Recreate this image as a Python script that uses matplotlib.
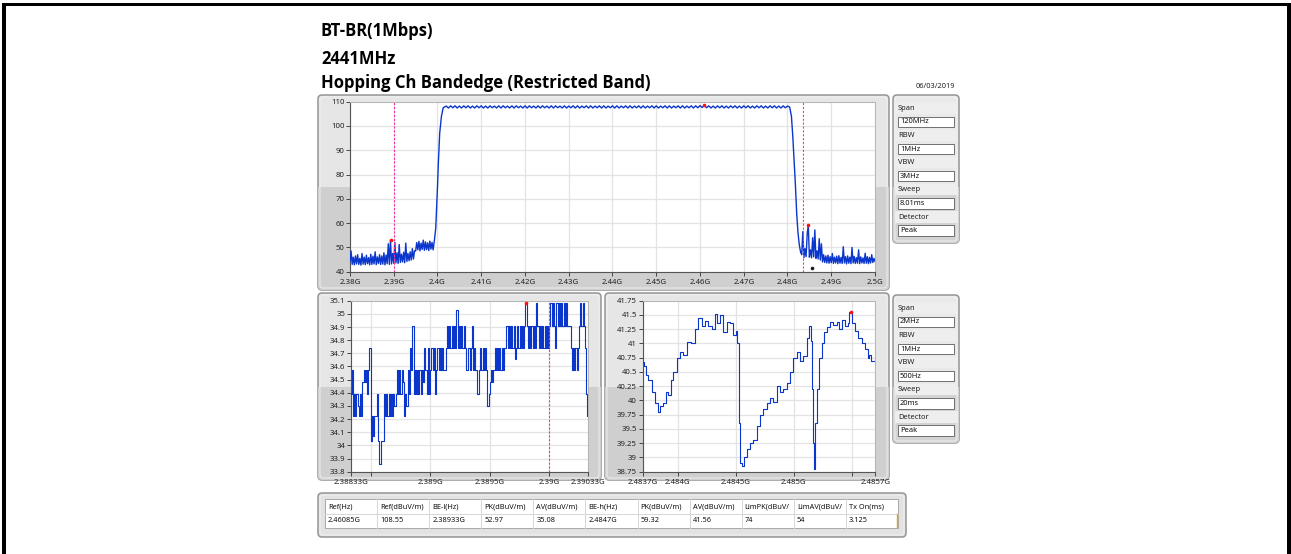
import numpy as np
import matplotlib
matplotlib.use('Agg')
import matplotlib.pyplot as plt
from matplotlib.patches import FancyBboxPatch, Rectangle
from matplotlib import font_manager

W, H = 1291, 554

# ---------------- data ----------------
title_lines = ["BT-BR(1Mbps)", "2441MHz", "Hopping Ch Bandedge (Restricted Band)"]
date_text = "06/03/2019"

# top chart (120 MHz span)
top_xticks = [2.38, 2.39, 2.40, 2.41, 2.42, 2.43, 2.44, 2.45, 2.46, 2.47, 2.48, 2.49, 2.50]
top_xticklabels = ['2.38G', '2.39G', '2.4G', '2.41G', '2.42G', '2.43G', '2.44G',
                   '2.45G', '2.46G', '2.47G', '2.48G', '2.49G', '2.5G']
top_yticks = [40, 50, 60, 70, 80, 90, 100, 110]

# noise floor below band, 2.380 - 2.399 GHz (0.25 MHz sweep bins)
floor_lo = [44.0, 48.5, 43.0, 46.0, 42.8, 46.5, 43.2, 47.0, 43.0, 45.5,
            42.7, 47.5, 43.1, 46.0, 42.9, 46.8, 43.3, 45.8, 42.8, 47.2,
            43.0, 46.4, 43.2, 48.2, 42.9, 46.1, 43.4, 47.0, 43.0, 46.5,
            43.1, 47.8, 42.8, 46.9, 43.3, 51.5, 43.0, 52.97, 43.2, 47.5,
            43.5, 52.0, 43.6, 47.8, 43.4, 51.2, 43.8, 47.2, 44.0, 48.0,
            43.7, 51.8, 44.2, 47.5, 44.5, 48.2, 44.8, 49.5, 45.2, 48.6,
            48.5, 52.0, 49.0, 52.5, 48.6, 51.8, 49.2, 53.0, 48.8, 52.3,
            49.1, 51.9, 48.7, 52.6, 49.3, 52.1, 49.0]
rise_freq = [2.3993, 2.3996, 2.3998, 2.4000, 2.4002, 2.4005, 2.4009, 2.4013]
rise_lvl = [53.0, 58.0, 66.0, 75.0, 85.0, 97.0, 104.0, 107.5]
# hopping channels 2402..2480 MHz: peak levels and dips between channels
ch_first_mhz, ch_last_mhz = 2402, 2480
ch_peak = [108.2, 108.3, 108.3, 108.2, 108.3, 108.3, 108.2, 108.3, 108.3, 108.2,
           108.3, 108.2, 108.3, 108.3, 108.2, 108.3, 108.3, 108.2, 108.3, 108.3,
           108.2, 108.3, 108.3, 108.2, 108.3, 108.3, 108.2, 108.3, 108.2, 108.3,
           108.3, 108.2, 108.3, 108.3, 108.2, 108.3, 108.3, 108.2, 108.3, 108.3,
           108.2, 108.3, 108.3, 108.2, 108.3, 108.3, 108.2, 108.3, 108.3, 108.2,
           108.3, 108.3, 108.2, 108.3, 108.3, 108.2, 108.3, 108.3, 108.4, 108.5,
           108.3, 108.2, 108.3, 108.3, 108.2, 108.3, 108.3, 108.2, 108.3, 108.3,
           108.2, 108.3, 108.3, 108.2, 108.3, 108.3, 108.2, 108.3, 108.2]
ch_dip = [107.4, 107.5, 107.4, 107.4, 107.5, 107.4, 107.4, 107.5, 107.4, 107.4,
          107.5, 107.4, 107.4, 107.5, 107.4, 107.4, 107.5, 107.4, 107.4, 107.5,
          107.4, 107.4, 107.5, 107.4, 107.4, 107.5, 107.4, 107.4, 107.5, 107.4,
          107.4, 107.5, 107.4, 107.4, 107.5, 107.4, 107.4, 107.5, 107.4, 107.4,
          107.5, 107.4, 107.4, 107.5, 107.4, 107.4, 107.5, 107.4, 107.4, 107.5,
          107.4, 107.4, 107.5, 107.4, 107.4, 107.5, 107.4, 107.5, 107.6, 107.5,
          107.4, 107.4, 107.5, 107.4, 107.4, 107.5, 107.4, 107.4, 107.5, 107.4,
          107.4, 107.5, 107.4, 107.4, 107.5, 107.4, 107.4, 107.5]
fall_freq = [2.4805, 2.4809, 2.4812, 2.4815, 2.4818, 2.4821, 2.4824, 2.4827, 2.4830]
fall_lvl = [107.8, 104.0, 96.0, 86.0, 76.0, 64.0, 56.0, 51.0, 48.0]
# noise floor above band, 2.48325 - 2.500 GHz (0.25 MHz sweep bins)
floor_hi = [47.0, 56.5, 45.8, 49.5, 46.2, 55.5, 59.32, 46.0, 49.0, 45.7,
            54.0, 46.1, 57.2, 45.5, 48.6, 45.2, 53.6, 44.8, 51.5, 44.0,
            47.0, 43.8, 46.5, 43.6, 46.8, 43.5, 46.2, 43.7, 47.5, 43.4,
            46.0, 43.6, 46.4, 43.3, 46.6, 43.5, 45.9, 43.4, 50.3, 43.6,
            46.2, 43.2, 46.5, 43.5, 46.0, 43.3, 50.0, 43.6, 46.3, 43.4,
            45.8, 43.5, 49.0, 43.3, 46.1, 43.6, 45.7, 43.4, 47.6, 43.5,
            46.2, 43.3, 45.9, 43.6, 47.0, 43.8, 45.5, 44.2]
top_red_f = [2.38933, 2.46085, 2.4847]
top_red_v = [52.97, 108.55, 59.32]
top_black_f = [2.4855]
top_black_v = [41.56]
top_band_lines = [2.39, 2.4835]

# bottom-left zoom (lower band edge, 2 MHz span)
bl_range = (2.38833, 2.39033)
bl_xticks = [2.38833, 2.3885, 2.389, 2.3895, 2.39, 2.39033]
bl_xticklabels = ['2.38833G', '', '2.389G', '2.3895G', '2.39G', '2.39033G']
bl_yticks = [33.8, 33.9, 34.0, 34.1, 34.2, 34.3, 34.4, 34.5, 34.6, 34.7, 34.8, 34.9, 35.0, 35.1]
bl_yticklabels = ['33.8', '33.9', '34', '34.1', '34.2', '34.3', '34.4', '34.5',
                  '34.6', '34.7', '34.8', '34.9', '35', '35.1']
bl_lvl = [34.39, 34.57,
          34.22, 34.39, 34.22, 34.39, 34.30, 34.22, 34.39, 34.22,
          34.48, 34.57, 34.48, 34.57, 34.39, 34.57,
          34.74, 34.03, 34.22, 34.07, 34.22, 34.22, 34.39,
          34.03, 33.86, 33.86, 34.03, 34.03, 34.39,
          34.22, 34.39, 34.22, 34.39, 34.22, 34.39, 34.22, 34.39, 34.30, 34.39,
          34.57, 34.39, 34.57, 34.39, 34.57, 34.48, 34.22,
          34.39, 34.30, 34.57, 34.39, 34.74, 34.57, 34.91,
          34.39, 34.57, 34.39, 34.57, 34.39, 34.57, 34.39, 34.57, 34.48,
          34.74, 34.57, 34.39, 34.74, 34.39, 34.57, 34.74, 34.57, 34.74,
          34.39, 34.57, 34.74, 34.57, 34.74, 34.57, 34.74, 34.57, 34.57,
          34.74, 34.91, 34.74, 34.91, 34.74, 34.91, 34.74, 34.91, 34.74, 35.03,
          34.74, 34.91, 34.74, 34.91, 34.74, 34.91, 34.74, 34.57, 34.57,
          34.74, 34.57, 34.74, 34.91, 34.57, 34.74, 34.57, 34.39, 34.39,
          34.57, 34.74, 34.57, 34.74, 34.57, 34.74, 34.57, 34.30,
          34.39, 34.48, 34.57, 34.48,
          34.57, 34.74, 34.57, 34.74, 34.57, 34.74, 34.57, 34.74, 34.57, 34.74,
          34.74, 34.91, 34.74, 34.91, 34.74, 34.91, 34.74, 34.91, 34.66,
          34.74, 34.91, 34.74, 34.91, 34.74, 34.91, 34.74, 34.91, 35.08,
          34.91, 34.74, 34.91, 34.74, 34.91, 34.74, 34.91, 34.74, 35.08, 34.91,
          34.74, 34.91, 34.74, 34.91, 34.74, 34.91, 34.74, 34.91, 34.74, 34.91,
          35.08, 34.91, 35.08, 34.91, 34.74, 35.08, 34.91, 35.08, 34.91, 35.08,
          34.91, 35.08, 34.91, 35.08, 34.91, 34.91, 34.91,
          34.74, 34.57, 34.74, 34.57, 34.74, 34.57, 34.74,
          34.91, 35.08, 34.91, 35.08, 34.91, 34.74, 34.39, 34.22]
bl_red_f = [2.38981]
bl_red_v = [35.08]
bl_line = 2.39

# bottom-right zoom (upper band edge, 2 MHz span)
br_range = (2.4837, 2.4857)
br_xticks = [2.4837, 2.484, 2.4845, 2.485, 2.4855, 2.4857]
br_xticklabels = ['2.4837G', '2.484G', '2.4845G', '2.485G', '', '2.4857G']
br_yticks = [38.75, 39.0, 39.25, 39.5, 39.75, 40.0, 40.25, 40.5, 40.75, 41.0, 41.25, 41.5, 41.75]
br_yticklabels = ['38.75', '39', '39.25', '39.5', '39.75', '40', '40.25', '40.5',
                  '40.75', '41', '41.25', '41.5', '41.75']
br_off_mhz = [0.000, 0.020, 0.034, 0.063, 0.092, 0.120, 0.140, 0.163, 0.192, 0.206,
              0.235, 0.249, 0.278, 0.307, 0.335, 0.364, 0.393, 0.436, 0.464, 0.493,
              0.521, 0.550, 0.579, 0.607, 0.636, 0.650, 0.679, 0.708, 0.736, 0.765,
              0.788, 0.808, 0.817, 0.831, 0.842, 0.860, 0.880, 0.908, 0.937, 0.966,
              0.994, 1.023, 1.052, 1.080, 1.109, 1.138, 1.166, 1.195, 1.223, 1.252,
              1.281, 1.309, 1.338, 1.367, 1.395, 1.424, 1.438, 1.453, 1.461, 1.473,
              1.479, 1.490, 1.510, 1.530, 1.547, 1.567, 1.596, 1.625, 1.653, 1.682,
              1.702, 1.725, 1.754, 1.768, 1.788, 1.811, 1.840, 1.868, 1.897, 1.926,
              1.940, 1.954, 1.968, 2.000]
br_lvl = [40.68, 40.60, 40.45, 40.35, 40.15, 39.95, 39.80, 39.90, 39.95, 40.15,
          40.10, 40.35, 40.50, 40.75, 40.85, 40.80, 41.02, 41.00, 41.25, 41.45,
          41.30, 41.40, 41.30, 41.25, 41.52, 41.35, 41.50, 41.20, 41.38, 41.35,
          41.15, 41.22, 41.00, 39.60, 38.90, 38.85, 39.00, 39.15, 39.25, 39.30,
          39.55, 39.75, 39.85, 39.95, 40.05, 39.98, 40.25, 40.15, 40.20, 40.30,
          40.50, 40.75, 40.85, 40.70, 40.78, 41.10, 41.30, 41.05, 40.20, 39.25,
          38.80, 39.60, 40.20, 40.75, 41.00, 41.20, 41.28, 41.38, 41.32, 41.38,
          41.25, 41.42, 41.30, 41.35, 41.56, 41.35, 41.22, 41.10, 41.00, 40.90,
          40.75, 40.80, 40.70, 40.70]
br_red_f = [2.48549]
br_red_v = [41.56]

# analyser settings side panels
settings_labels = ['Span', 'RBW', 'VBW', 'Sweep', 'Detector']
settings_top = ['120MHz', '1MHz', '3MHz', '8.01ms', 'Peak']
settings_bot = ['2MHz', '1MHz', '500Hz', '20ms', 'Peak']

# result table
table_header = ['Ref(Hz)', 'Ref(dBuV/m)', 'BE-l(Hz)', 'PK(dBuV/m)', 'AV(dBuV/m)', 'BE-h(Hz)',
                'PK(dBuV/m)', 'AV(dBuV/m)', 'LimPK(dBuV/', 'LimAV(dBuV/', 'Tx On(ms)']
table_row = ['2.46085G', '108.55', '2.38933G', '52.97', '35.08', '2.4847G',
             '59.32', '41.56', '74', '54', '3.125']

# ---------------- drawing ----------------
plt.rcParams['font.family'] = ['Noto Sans', 'DejaVu Sans']
TRACE = '#0a36cc'
MAG = '#ff2f9c'
TICKFS = 5.6

# pick an installed bold face for the titles
bold_family = 'DejaVu Sans'
for fam in ['Open Sans', 'Lato', 'Roboto', 'Liberation Sans']:
    try:
        fp = font_manager.findfont(font_manager.FontProperties(family=fam, weight='bold'),
                                   fallback_to_default=False)
        if 'bold' in fp.lower() or 'black' in fp.lower():
            bold_family = fam
            break
    except Exception:
        pass

fig = plt.figure(figsize=(W / 100, H / 100), dpi=100)
fig.patch.set_facecolor('white')
bg = fig.add_axes([0, 0, 1, 1])
bg.set_xlim(0, W)
bg.set_ylim(H, 0)
bg.axis('off')
bg.set_zorder(0)

# page frame
bg.add_patch(Rectangle((1.5, 2.5), 4.0, H, fc='black', ec='none'))
bg.add_patch(Rectangle((1.5, 2.5), W, 3.2, fc='black', ec='none'))
bg.add_patch(Rectangle((1287, 2.5), 4.0, H, fc='black', ec='none'))


def panel(x0, y0, x1, y1, split=None, light='#e6e6e6', dark='#cfcfcf'):
    p = FancyBboxPatch((x0, y0), x1 - x0, y1 - y0,
                       boxstyle='round,pad=0,rounding_size=4',
                       fc=light, ec='#959595', lw=1.1, zorder=1)
    bg.add_patch(p)
    if split is not None:
        r = Rectangle((x0, split), x1 - x0, y1 - split, fc=dark, ec='none', zorder=1.1)
        r.set_clip_path(p)
        bg.add_patch(r)
    inner = FancyBboxPatch((x0 + 2, y0 + 2), x1 - x0 - 4, y1 - y0 - 4,
                           boxstyle='round,pad=0,rounding_size=3',
                           fc='none', ec='#f4f4f4', lw=0.6, zorder=1.2)
    bg.add_patch(inner)


# titles
for txt, yc in zip(title_lines, [31, 58.5, 83]):
    bg.text(321, yc, txt, ha='left', va='center', fontsize=12.0,
            fontweight='bold', family=bold_family, color='black')
bg.text(935.5, 86.5, date_text, ha='center', va='center', fontsize=5.3, color='#222222')

# chart panels
panel(318, 95, 889, 290, split=187)
panel(318, 293, 601, 480, split=387)
panel(605, 293, 889, 480, split=387)


def settings_panel(y0, values):
    panel(893, y0, 959, y0 + 148, split=y0 + 92, light='#e9e9e9', dark='#d3d3d3')
    for k, (lab, val) in enumerate(zip(settings_labels, values)):
        yl = y0 + 13.3 + 27.2 * k
        yb = y0 + 21.5 + 27.2 * k
        bg.add_patch(Rectangle((894.5, yl - 6), 63, 11.5, fc='#eeeeee', ec='none', zorder=1.3))
        bg.text(898, yl, lab, ha='left', va='center', fontsize=5.4, color='#222222', zorder=3)
        bg.add_patch(Rectangle((897.5, yb), 56, 10.5, fc='white', ec='#6f6f6f', lw=0.7, zorder=2))
        bg.text(900, yb + 5.4, val, ha='left', va='center', fontsize=5.4, color='#111111', zorder=3)


settings_panel(95, settings_top)
settings_panel(295, settings_bot)

# result table
panel(318, 493, 906, 537, split=None, light='#e2e2e2')
bg.add_patch(Rectangle((325, 499), 573, 29, fc='white', ec='#a8a8a8', lw=0.7, zorder=2))
bg.plot([325, 898], [513.5, 513.5], color='#d6d6d6', lw=0.7, zorder=2.5)
col_w = 573 / len(table_header)
for k, (hd, val) in enumerate(zip(table_header, table_row)):
    x0 = 325 + col_w * k
    if k > 0:
        bg.plot([x0, x0], [499, 528], color='#d6d6d6', lw=0.7, zorder=2.5)
    bg.text(x0 + 3, 506.5, hd, ha='left', va='center', fontsize=5.3, color='#111111', zorder=3)
    bg.text(x0 + 3, 520.5, val, ha='left', va='center', fontsize=5.3, color='#111111', zorder=3)
bg.plot([896.5, 896.5], [514, 527], color='#d9a520', lw=1.0, zorder=3)


def make_ax(l, t, r, b):
    ax = fig.add_axes([l / W, 1 - b / H, (r - l) / W, (b - t) / H])
    ax.set_zorder(2)
    ax.set_facecolor('white')
    for s in ['top', 'right']:
        ax.spines[s].set_color('#b5b5b5')
        ax.spines[s].set_linewidth(0.7)
    for s in ['left', 'bottom']:
        ax.spines[s].set_color('#555555')
        ax.spines[s].set_linewidth(0.8)
    ax.tick_params(direction='out', length=2.6, width=0.7, color='#444444',
                   labelsize=TICKFS, labelcolor='#222222', pad=1.5)
    ax.grid(True, color='#e3e3e3', lw=0.9)
    ax.set_axisbelow(True)
    return ax


# top chart
ax = make_ax(350, 101.7, 875, 271.7)
f_lo = np.linspace(2.380, 2.399, len(floor_lo))
f_hi = np.linspace(2.48325, 2.500, len(floor_hi))
ch_f = np.arange(ch_first_mhz, ch_last_mhz + 1) / 1000.0
rip_f, rip_v = [], []
for i, pk in enumerate(ch_peak):
    rip_f.append(ch_f[i])
    rip_v.append(pk)
    if i < len(ch_dip):
        rip_f.append(ch_f[i] + 0.0005)
        rip_v.append(ch_dip[i])
freq_all = np.concatenate([f_lo, rise_freq, rip_f, fall_freq, f_hi])
lvl_all = np.concatenate([floor_lo, rise_lvl, rip_v, fall_lvl, floor_hi])
ax.plot(freq_all, lvl_all, color=TRACE, lw=1.0, zorder=3)
for xl in top_band_lines:
    ax.axvline(xl, color=MAG, lw=0.8, ls=(0, (2, 1.5)), zorder=4)
ax.plot(top_red_f, top_red_v, 'o', color='#ff1010', ms=2.6, mec='none', zorder=5)
ax.plot(top_black_f, top_black_v, 'o', color='#1a1a1a', ms=2.6, mec='none', zorder=5)
ax.set_xlim(2.38, 2.50)
ax.set_ylim(40, 110)
ax.set_xticks(top_xticks)
ax.set_xticklabels(top_xticklabels)
ax.set_yticks(top_yticks)
ax.tick_params(axis='x', pad=2.5)

# bottom-left chart
ax2 = make_ax(351, 300.7, 588, 471.7)
bl_f = np.linspace(bl_range[0], bl_range[1], len(bl_lvl))
ax2.plot(bl_f, bl_lvl, color=TRACE, lw=0.8, drawstyle='steps-mid', zorder=3)
ax2.axvline(bl_line, color=MAG, lw=0.8, ls=(0, (2, 1.5)), zorder=4)
ax2.plot(bl_red_f, bl_red_v, 'o', color='#ff1010', ms=2.6, mec='none', zorder=5)
ax2.set_xlim(*bl_range)
ax2.set_ylim(33.8, 35.1)
ax2.set_xticks(bl_xticks)
ax2.set_xticklabels(bl_xticklabels)
ax2.set_yticks(bl_yticks)
ax2.set_yticklabels(bl_yticklabels)
ax2.tick_params(axis='x', pad=2.5)

# bottom-right chart
ax3 = make_ax(642.7, 300.7, 875.3, 471.7)
br_f = br_range[0] + np.array(br_off_mhz) / 1000.0
ax3.plot(br_f, br_lvl, color=TRACE, lw=0.8, drawstyle='steps-mid', zorder=3)
ax3.plot(br_red_f, br_red_v, 'o', color='#ff1010', ms=2.6, mec='none', zorder=5)
ax3.set_xlim(*br_range)
ax3.set_ylim(38.75, 41.75)
ax3.set_xticks(br_xticks)
ax3.set_xticklabels(br_xticklabels)
ax3.set_yticks(br_yticks)
ax3.set_yticklabels(br_yticklabels)
ax3.tick_params(axis='x', pad=2.5)

fig.savefig('out.png', dpi=100, facecolor='white')
